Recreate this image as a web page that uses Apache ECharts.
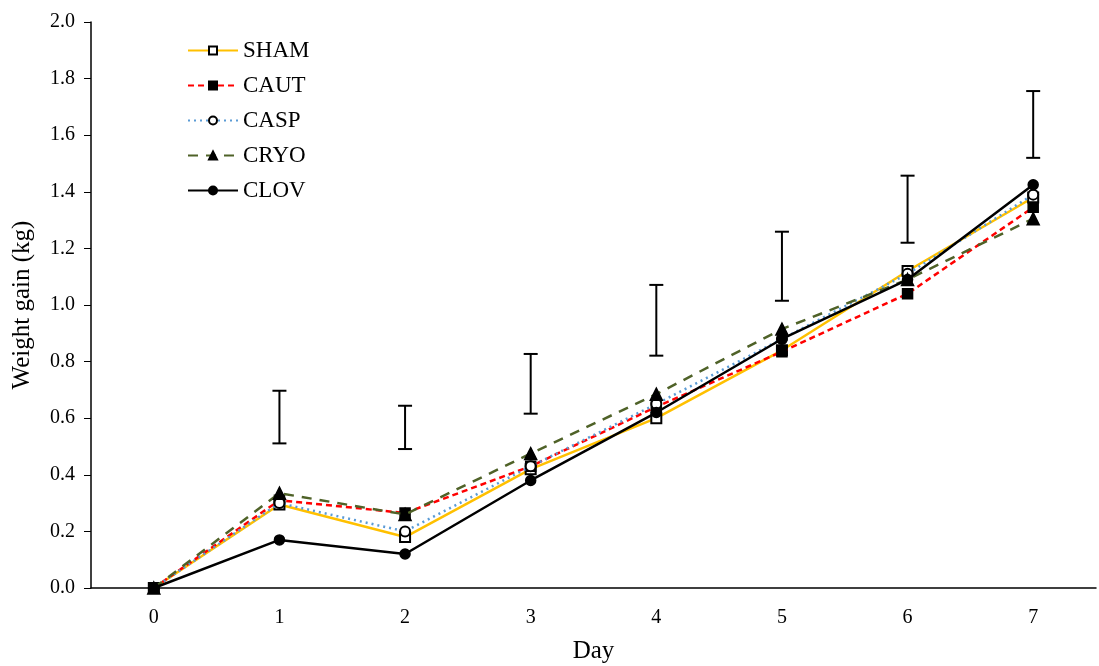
<!DOCTYPE html>
<html>
<head>
<meta charset="utf-8">
<script src="https://cdn.jsdelivr.net/npm/echarts@6/dist/echarts.min.js"></script>
<style>html,body{margin:0;padding:0;background:#fff}#c{width:1099px;height:666px}</style>
</head>
<body>
<div id="c"></div>
<script>
var days = ['0','1','2','3','4','5','6','7'];
var SHAM = [0, 0.295, 0.18, 0.42, 0.60, 0.84, 1.12, 1.38];
var CAUT = [0, 0.31, 0.265, 0.43, 0.64, 0.835, 1.04, 1.345];
var CASP = [0, 0.30, 0.20, 0.43, 0.65, 0.88, 1.11, 1.39];
var CRYO = [0, 0.335, 0.26, 0.475, 0.685, 0.915, 1.09, 1.305];
var CLOV = [0, 0.17, 0.12, 0.38, 0.62, 0.88, 1.09, 1.425];
var errDays = [1, 2, 3, 4, 5, 6, 7];
var errLow = [0.511, 0.491, 0.616, 0.821, 1.015, 1.220, 1.520];
var errHigh = [0.697, 0.644, 0.827, 1.071, 1.259, 1.457, 1.756];

var font = 'Liberation Serif';
var chart = echarts.init(document.getElementById('c'));
var errData = errDays.map(function(d, i){ return [d, errLow[i], errHigh[i]]; });

function lineSeries(name, data, color, type, width, symbol, z){
  return {
    name: name, type: 'line', data: data, z: z,
    symbol: symbol, symbolSize: symbol === 'triangle' ? 12 : 10,
    showSymbol: true,
    lineStyle: {color: color, type: type, width: width},
    itemStyle: {color: '#000', borderColor: '#000', borderWidth: 1.5},
    emphasis: {disabled: true},
    animation: false
  };
}

chart.setOption({
  animation: false,
  textStyle: {fontFamily: font},
  grid: {left: 91, right: 3, top: 22, bottom: 78, containLabel: false, outerBoundsMode: 'none'},
  legend: {
    left: 187, top: 39, padding: 0, orient: 'vertical', itemWidth: 50, itemHeight: 10, itemGap: 12,
    textStyle: {fontFamily: font, fontSize: 23, color: '#000'},
    data: ['SHAM','CAUT','CASP','CRYO','CLOV']
  },
  xAxis: {
    type: 'category', data: days, boundaryGap: true,
    name: 'Day', nameLocation: 'middle', nameGap: 51,
    nameTextStyle: {fontFamily: font, fontSize: 25, color: '#000'},
    axisLine: {lineStyle: {color: '#000', width: 1.5}},
    axisTick: {alignWithLabel: true, length: 7, lineStyle: {color: '#000'}},
    axisLabel: {fontFamily: font, fontSize: 20, color: '#000', margin: 20},
    splitLine: {show: false}
  },
  yAxis: {
    type: 'value', min: 0, max: 2, interval: 0.2,
    name: 'Weight gain (kg)', nameLocation: 'middle', nameGap: 56,
    nameTextStyle: {fontFamily: font, fontSize: 25, color: '#000'},
    axisLine: {show: true, lineStyle: {color: '#000', width: 1.5}},
    axisTick: {show: true, length: 7, lineStyle: {color: '#000'}},
    axisLabel: {fontFamily: font, fontSize: 20, color: '#000', margin: 16,
      formatter: function(v){ return v.toFixed(1); }},
    splitLine: {show: false}
  },
  series: [
    {
      type: 'custom', name: 'err', data: errData, z: 1, silent: true,
      renderItem: function(params, api){
        var x = api.value(0);
        var lo = api.coord([x, api.value(1)]);
        var hi = api.coord([x, api.value(2)]);
        var hw = 7;
        var st = {stroke: '#000', lineWidth: 2};
        return {type: 'group', children: [
          {type: 'line', shape: {x1: lo[0], y1: lo[1], x2: hi[0], y2: hi[1]}, style: st},
          {type: 'line', shape: {x1: lo[0]-hw, y1: lo[1], x2: lo[0]+hw, y2: lo[1]}, style: st},
          {type: 'line', shape: {x1: hi[0]-hw, y1: hi[1], x2: hi[0]+hw, y2: hi[1]}, style: st}
        ]};
      },
      encode: {x: 0, y: [1, 2]}
    },
    lineSeries('SHAM', SHAM, '#FFC000', 'solid', 2.5, 'emptyRect', 3),
    lineSeries('CAUT', CAUT, '#FF0000', [6, 4], 2.5, 'rect', 4),
    lineSeries('CASP', CASP, '#5B9BD5', [2, 4], 2.5, 'emptyCircle', 5),
    lineSeries('CRYO', CRYO, '#4F6228', [10, 8], 2.5, 'triangle', 6),
    lineSeries('CLOV', CLOV, '#000000', 'solid', 2.5, 'circle', 7)
  ]
});
</script>
</body>
</html>
